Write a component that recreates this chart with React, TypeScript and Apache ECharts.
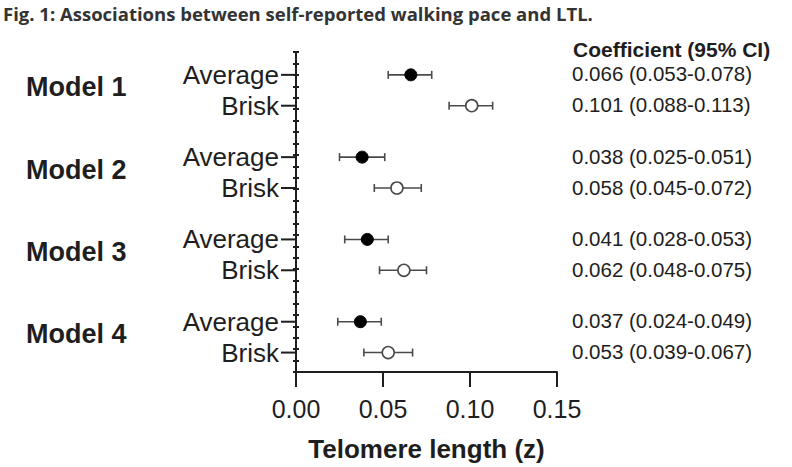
import React, { useEffect, useRef } from "react";
import * as echarts from "echarts";

const models = ["Model 1", "Model 2", "Model 3", "Model 4"];
const paces = ["Average", "Brisk", "Average", "Brisk", "Average", "Brisk", "Average", "Brisk"];
const rowPos = [2, 4.7, 9.2, 11.9, 16.4, 19.1, 23.6, 26.3];
const coef = [0.066, 0.101, 0.038, 0.058, 0.041, 0.062, 0.037, 0.053];
const ciLow = [0.053, 0.088, 0.025, 0.045, 0.028, 0.048, 0.024, 0.039];
const ciHigh = [0.078, 0.113, 0.051, 0.072, 0.053, 0.075, 0.049, 0.067];
const xMin = 0;
const xMax = 0.15;
const xStep = 0.05;
const yMin = 0;
const yMax = 28;

const FONT = "'Liberation Sans', Arial, Helvetica, sans-serif";
const INK = "#1e1e1e";
const BAR = "#4a4a4a";

export default function App() {
  const ref = useRef<HTMLDivElement>(null);
  useEffect(() => {
    if (!ref.current) return;
    const chart = echarts.init(ref.current, undefined, { renderer: "svg" });

    const avgIdx = paces.map((p, i) => i).filter((i) => paces[i] === "Average");
    const briskIdx = paces.map((p, i) => i).filter((i) => paces[i] === "Brisk");

    const option: any = {
      animation: false,
      backgroundColor: "#ffffff",
      title: [
        {
          text: "Fig. 1: Associations between self-reported walking pace and LTL.",
          left: 3,
          top: 4,
          padding: 0,
          textStyle: { fontFamily: "'Open Sans', sans-serif", fontWeight: "bold", fontSize: 18.5, color: "#333" },
        },
        {
          text: "Coefficient (95% CI)",
          left: 573,
          top: 39,
          padding: 0,
          textStyle: { fontFamily: FONT, fontWeight: "bold", fontSize: 21, color: INK },
        },
      ],
      grid: { left: 296, right: 235, top: 52, bottom: 94, containLabel: false },
      xAxis: {
        type: "value",
        position: "bottom",
        min: xMin,
        max: xMax,
        interval: xStep,
        name: "Telomere length (z)",
        nameLocation: "middle",
        nameGap: 64,
        nameTextStyle: { fontFamily: FONT, fontWeight: "bold", fontSize: 26, color: INK },
        axisLine: { show: true, onZero: false, lineStyle: { color: INK, width: 2 } },
        axisTick: { show: true, length: 15, lineStyle: { color: INK, width: 2 } },
        axisLabel: {
          fontFamily: FONT,
          fontSize: 25,
          color: INK,
          margin: 24,
          formatter: (v: number) => v.toFixed(2),
        },
        splitLine: { show: false },
      },
      yAxis: [
        {
          type: "value",
          inverse: true,
          min: yMin,
          max: yMax,
          interval: 1,
          position: "left",
          axisLine: { show: true, onZero: false, lineStyle: { color: INK, width: 2 } },
          axisTick: { show: true, length: 3, lineStyle: { color: INK, width: 2 } },
          axisLabel: { show: false },
          splitLine: { show: false },
        },
        {
          type: "value",
          inverse: true,
          min: yMin,
          max: yMax,
          interval: 1,
          position: "left",
          axisLine: { show: false, onZero: false },
          axisTick: { show: true, inside: true, length: 3, lineStyle: { color: INK, width: 2 } },
          axisLabel: { show: false },
          splitLine: { show: false },
        },
      ],
      series: [
        {
          type: "custom",
          name: "rowLabels",
          silent: true,
          clip: false,
          data: rowPos.map((y, i) => [0, y, i]),
          encode: { x: 0, y: 1 },
          renderItem: (params: any, api: any) => {
            const p = api.coord([0, api.value(1)]);
            const i = api.value(2);
            return {
              type: "group",
              children: [
                {
                  type: "line",
                  shape: { x1: p[0] - 15, y1: p[1], x2: p[0], y2: p[1] },
                  style: { stroke: INK, lineWidth: 2 },
                },
                {
                  type: "text",
                  x: p[0] - 17,
                  y: p[1],
                  style: {
                    text: paces[i],
                    fontFamily: FONT,
                    fontSize: 26,
                    fill: INK,
                    align: "right",
                    verticalAlign: "middle",
                  },
                },
                {
                  type: "text",
                  x: 572,
                  y: p[1] - 1,
                  style: {
                    text: `${coef[i].toFixed(3)} (${ciLow[i].toFixed(3)}-${ciHigh[i].toFixed(3)})`,
                    fontFamily: FONT,
                    fontSize: 20.5,
                    fill: INK,
                    align: "left",
                    verticalAlign: "middle",
                  },
                },
              ],
            };
          },
        },
        {
          type: "custom",
          name: "modelLabels",
          silent: true,
          clip: false,
          data: models.map((m, k) => [0, (rowPos[2 * k] + rowPos[2 * k + 1]) / 2, k]),
          encode: { x: 0, y: 1 },
          renderItem: (params: any, api: any) => {
            const p = api.coord([0, api.value(1)]);
            const k = api.value(2);
            return {
              type: "text",
              x: 26,
              y: p[1] - 3,
              style: {
                text: models[k],
                fontFamily: FONT,
                fontWeight: "bold",
                fontSize: 27,
                fill: INK,
                align: "left",
                verticalAlign: "middle",
              },
            };
          },
        },
        {
          type: "custom",
          name: "ci",
          silent: true,
          data: rowPos.map((y, i) => [ciLow[i], ciHigh[i], y]),
          encode: { x: [0, 1], y: 2 },
          renderItem: (params: any, api: any) => {
            const a = api.coord([api.value(0), api.value(2)]);
            const b = api.coord([api.value(1), api.value(2)]);
            const h = 4;
            const st = { stroke: BAR, lineWidth: 1.6 };
            return {
              type: "group",
              children: [
                { type: "line", shape: { x1: a[0], y1: a[1], x2: b[0], y2: b[1] }, style: st },
                { type: "line", shape: { x1: a[0], y1: a[1] - h, x2: a[0], y2: a[1] + h }, style: st },
                { type: "line", shape: { x1: b[0], y1: b[1] - h, x2: b[0], y2: b[1] + h }, style: st },
              ],
            };
          },
          z: 2,
        },
        {
          type: "scatter",
          name: "Average",
          symbol: "circle",
          symbolSize: 12,
          data: avgIdx.map((i) => [coef[i], rowPos[i]]),
          itemStyle: { color: "#000000", borderColor: "#000000", borderWidth: 1, opacity: 1 },
          z: 5,
        },
        {
          type: "scatter",
          name: "Brisk",
          symbol: "circle",
          symbolSize: 12,
          data: briskIdx.map((i) => [coef[i], rowPos[i]]),
          itemStyle: { color: "#ffffff", borderColor: "#4a4a4a", borderWidth: 1.6, opacity: 1 },
          z: 5,
        },
      ],
    };
    chart.setOption(option);
    return () => chart.dispose();
  }, []);

  return (
    <div
      ref={ref}
      style={{ position: "fixed", left: 0, top: 0, width: 792, height: 467, background: "#fff" }}
    />
  );
}
